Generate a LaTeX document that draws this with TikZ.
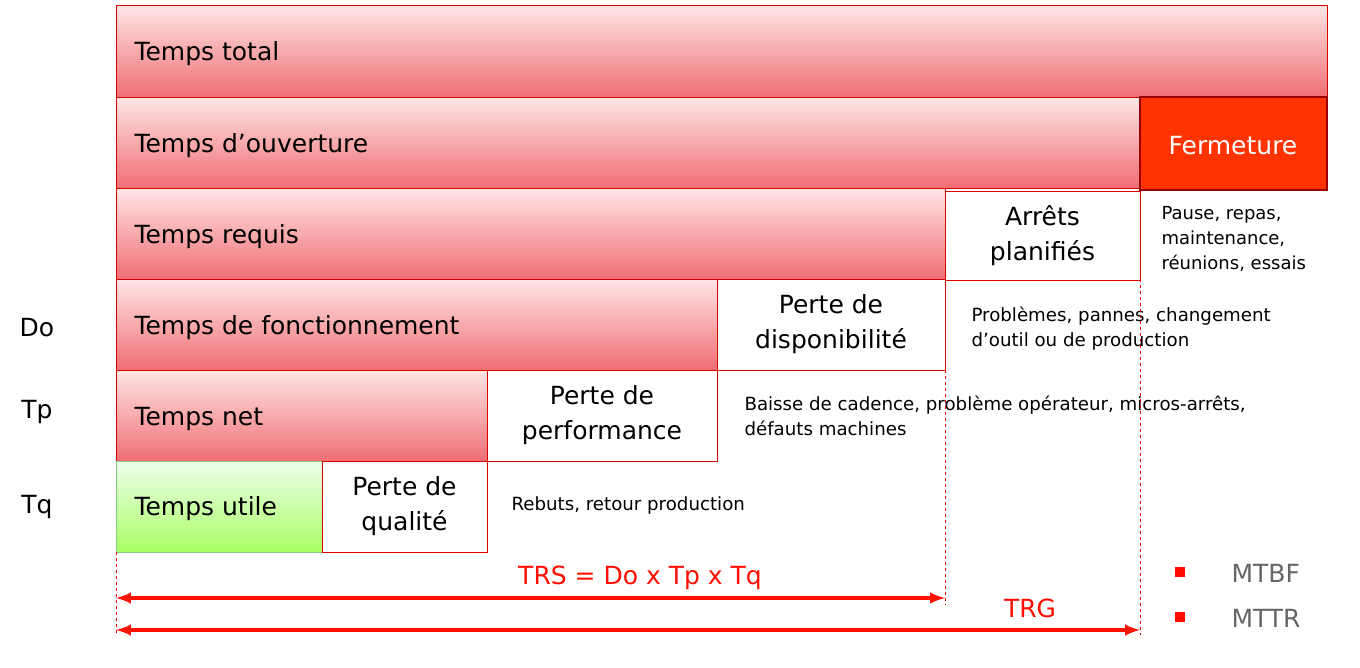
\documentclass[tikz,border=0pt]{standalone}
\usepackage{fontspec}
\setmainfont{DejaVu Sans}
\begin{document}
\begin{tikzpicture}[x=1pt,y=-1pt,
 bar/.style={draw=red!85!black,line width=0.8pt,top color=red!10,bottom color={rgb,255:red,240;green,110;blue,115},text=black,anchor=north west,inner sep=0pt},
 loss/.style={draw=red!85!black,line width=0.6pt,fill=white,align=center,font=\fontsize{25}{35}\selectfont,inner sep=0pt},
 big/.style={font=\fontsize{25}{29}\selectfont},
 small/.style={font=\fontsize{18.2}{25}\selectfont,align=left,anchor=north west},
 dl/.style={draw=red!85!black,dashed,line width=1pt},
 arr/.style={draw=red!85!orange,line width=4pt,<->,>=latex}]
\useasboundingbox (0,0) rectangle (1360,667);
\newcommand{\barbox}[6]{\path[bar] (#1,#2) rectangle (#3,#4); \node[big,anchor=west] (#5) at (#1+15,{(#2+#4)/2+3}) {#6};}
\barbox{116}{5}{1327}{97}{tt}{Temps total}
\barbox{116}{97}{1140}{188}{to}{Temps d’ouverture}
\barbox{116}{188}{945}{279}{tr}{Temps requis}
\barbox{116}{279}{717}{370}{tf}{Temps de fonctionnement}
\barbox{116}{370}{487}{461}{tn}{Temps net}
\path[draw=green!60!black!50,line width=0.8pt,top color=green!8,bottom color=green!40!lime!60] (116,461) rectangle (322,552);
\node[big,anchor=west] (tu) at (131,509) {Temps utile};
\path[draw=red!60!black,line width=1.5pt,fill={rgb,255:red,255;green,51;blue,0}] (1140,97) rectangle (1327,190);
\node[big,text=white] (fe) at (1233,146) {Fermeture};
\node[loss,minimum width=195pt,minimum height=89pt] (ap) at (1042.5,236) {Arrêts\\planifiés};
\node[loss,minimum width=228pt,minimum height=91pt] (pd) at (831,324.5) {Perte de\\disponibilité};
\node[loss,minimum width=230pt,minimum height=91pt] (pp) at (602,415.5) {Perte de\\performance};
\node[loss,minimum width=165pt,minimum height=91pt] (pq) at (404.5,506.5) {Perte de\\qualité};
\node[small,font=\fontsize{18}{25}\selectfont] (n1) at (1158,203) {Pause, repas,\\maintenance,\\réunions, essais};
\node[small] (n2) at (968,303) {Problèmes, pannes, changement\\d’outil ou de production};
\node[small] (n3) at (741,392) {Baisse de cadence, problème opérateur, micros-arrêts,\\défauts machines};
\node[small] (n4) at (508,493) {Rebuts, retour production};
\node[big] (do) at (37,328) {Do};
\node[big] (tp) at (37,412) {Tp};
\node[big] (tq) at (37,507) {Tq};
\coordinate (a0) at (116,552); \coordinate (a1) at (116,635);
\coordinate (b0) at (945,370); \coordinate (b1) at (945,605);
\coordinate (c0) at (1140,279); \coordinate (c1) at (1140,635);
\draw[dl] (a0)--(a1); \draw[dl] (b0)--(b1); \draw[dl] (c0)--(c1);
\coordinate (l1) at (116,598); \coordinate (r1) at (945,598);
\coordinate (l2) at (116,630); \coordinate (r2) at (1140,630);
\draw[arr] (l1)--(r1); \draw[arr] (l2)--(r2);
\node[big,text=red!90!orange] (trs) at (640,578) {TRS = Do x Tp x Tq};
\node[big,text=red!90!orange] (trg) at (1030,608) {TRG};
\fill[red!90!orange] (1175,567) rectangle (1185,577);
\fill[red!90!orange] (1175,612) rectangle (1185,622);
\node[big,text=black!60,anchor=west] (mtbf) at (1228,573) {MTBF};
\node[big,text=black!60,anchor=west] (mttr) at (1228,618) {MTTR};
\end{tikzpicture}
\end{document}
